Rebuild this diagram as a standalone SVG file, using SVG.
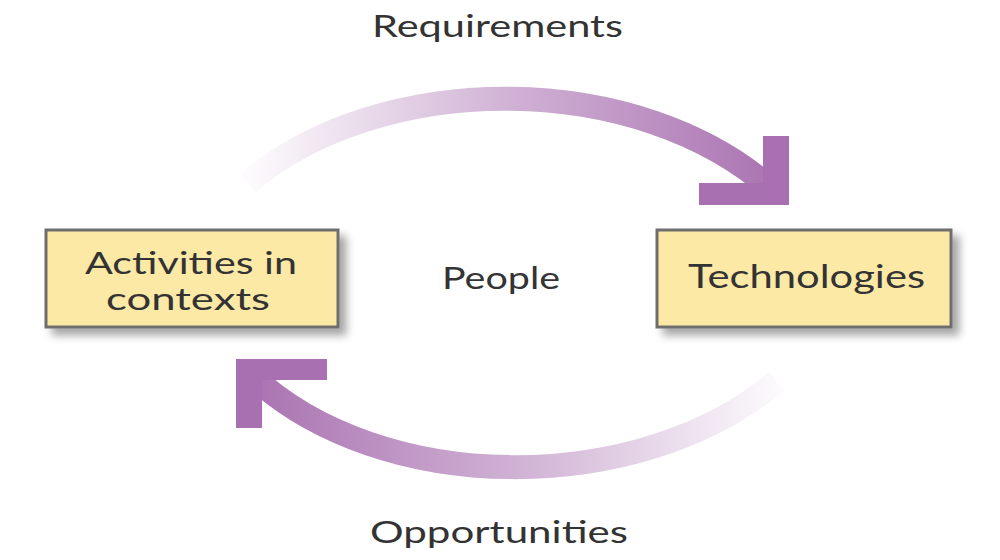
<svg xmlns="http://www.w3.org/2000/svg" width="1000" height="560" viewBox="0 0 1000 560">
  <defs>
    <linearGradient id="gTop" gradientUnits="userSpaceOnUse" x1="245" y1="0" x2="790" y2="0">
      <stop offset="0" stop-color="#a870b0" stop-opacity="0.02"/>
      <stop offset="0.5" stop-color="#a870b0" stop-opacity="0.55"/>
      <stop offset="1" stop-color="#a870b0" stop-opacity="1"/>
    </linearGradient>
    <linearGradient id="gBot" gradientUnits="userSpaceOnUse" x1="785" y1="0" x2="240" y2="0">
      <stop offset="0" stop-color="#a870b0" stop-opacity="0.02"/>
      <stop offset="0.5" stop-color="#a870b0" stop-opacity="0.55"/>
      <stop offset="1" stop-color="#a870b0" stop-opacity="1"/>
    </linearGradient>
    <filter id="shadow" x="-10%" y="-20%" width="130%" height="160%">
      <feGaussianBlur in="SourceAlpha" stdDeviation="4"/>
      <feOffset dx="7" dy="7" result="b"/>
      <feComponentTransfer><feFuncA type="linear" slope="0.35"/></feComponentTransfer>
      <feMerge><feMergeNode/><feMergeNode in="SourceGraphic"/></feMerge>
    </filter>
    <style>
      .box { fill: #fce9a6; stroke: #6e6e6e; stroke-width: 3; }
      .lbl { font-family: Lato, "Open Sans", "Liberation Sans", sans-serif; fill: #333333; font-size: 30px; }
      .big { font-size: 32px; }
      .head { fill: #a870b0; }
    </style>
  </defs>
  <rect width="1000" height="560" fill="#ffffff"/>

  <g id="connectors">
    <g id="requirements-arrow">
      <path d="M 248 183 C 380 70, 640 68, 776 193" fill="none" stroke="url(#gTop)" stroke-width="24"/>
      <polygon class="head" points="763,136 789,136 789,205 699,205 699,183 763,183"/>
    </g>
    <g id="opportunities-arrow">
      <path d="M 777 381 C 640 497, 380 497, 250 374" fill="none" stroke="url(#gBot)" stroke-width="24"/>
      <polygon class="head" points="236,359 327,359 327,380 262,380 262,428 236,428"/>
    </g>
  </g>

  <g id="activities">
    <rect class="box" x="46" y="230" width="292" height="97" filter="url(#shadow)"/>
    <text class="lbl" x="85" y="274" textLength="212" lengthAdjust="spacingAndGlyphs">Activities in</text>
    <text class="lbl" x="106" y="310" textLength="164" lengthAdjust="spacingAndGlyphs">contexts</text>
  </g>

  <g id="technologies">
    <rect class="box" x="657" y="230" width="294" height="97" filter="url(#shadow)"/>
    <text class="lbl big" x="688" y="288" textLength="237" lengthAdjust="spacingAndGlyphs">Technologies</text>
  </g>

  <g id="people">
    <text class="lbl" x="442" y="289" textLength="118" lengthAdjust="spacingAndGlyphs">People</text>
  </g>

  <g id="labels">
    <text class="lbl" x="372" y="37" textLength="251" lengthAdjust="spacingAndGlyphs">Requirements</text>
    <text class="lbl" x="370" y="543" textLength="258" lengthAdjust="spacingAndGlyphs">Opportunities</text>
  </g>
</svg>
